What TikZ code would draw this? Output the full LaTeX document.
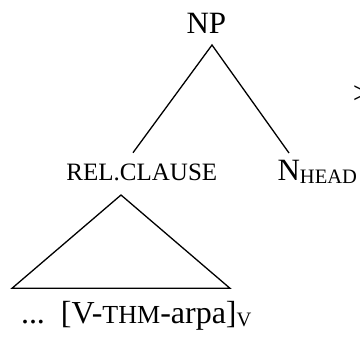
\documentclass[tikz,border=0pt]{standalone}
\usepackage{fontspec}
\setmainfont{Liberation Serif}
\newcommand\mainsz{\fontsize{31}{31}\selectfont}
\newcommand\scsz[1]{{\fontsize{25}{25}\selectfont #1}}
\newcommand\subsz[1]{\raisebox{-3.3pt}{\fontsize{20.5}{20.5}\selectfont #1}}
\begin{document}
\begin{tikzpicture}[x=1pt,y=-1pt,
  lbl/.style={inner sep=0pt,outer sep=0pt,anchor=base west,font=\mainsz},
  branch/.style={line width=1.3pt,line join=miter}]
\useasboundingbox (0,0) rectangle (360,338);
% labels
\node[lbl] (np) at (186.5,33.3) {NP};
\node[lbl] (rel) at (66.5,180) {\scsz{REL.CLAUSE}};
\node[lbl] (nhead) at (277.6,180) {N\subsz{HEAD}};
\node[lbl] (leaf) at (21,323) {{\fontsize{32}{32}\selectfont ...\ \ [V-}{\fontsize{26}{26}\selectfont THM}{\fontsize{32}{32}\selectfont -arpa]}\raisebox{-3.5pt}{\fontsize{20.5}{20.5}\selectfont V}};
\node[lbl] (gt) at (353,103) {>};
% attachment points
\coordinate (npapex) at (212,45);
\coordinate (relTop) at (133,152.7);
\coordinate (nheadTop) at (289,153);
\coordinate (triApex) at (121,195);
\coordinate (triL) at (12,288.3);
\coordinate (triR) at (230,288.3);
% branches
\draw[branch] (relTop) -- (npapex) -- (nheadTop);
\draw[branch] (triApex) -- (triL) -- (triR) -- cycle;
\end{tikzpicture}
\end{document}
